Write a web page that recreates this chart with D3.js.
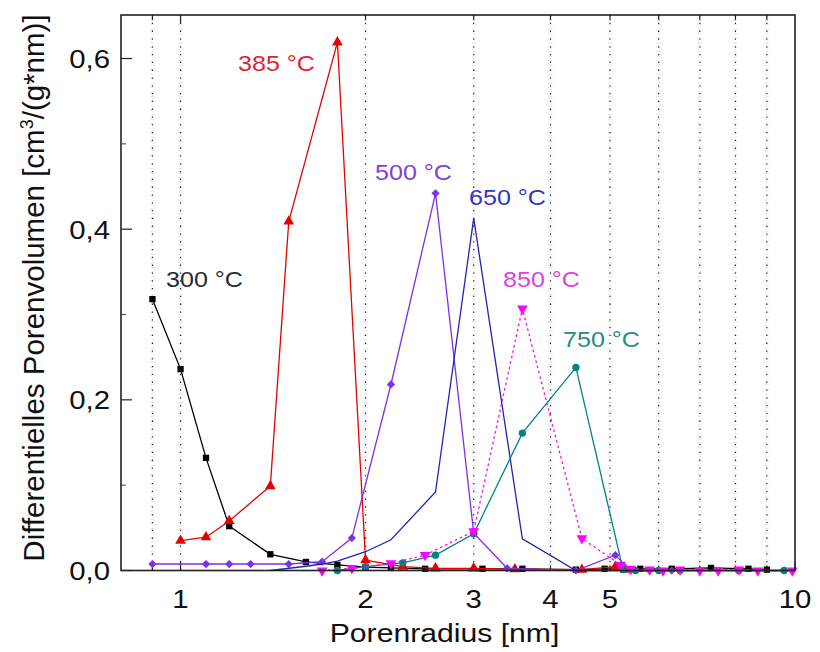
<!DOCTYPE html>
<html>
<head>
<meta charset="utf-8">
<script src="https://cdn.jsdelivr.net/npm/d3@7"></script>
<style>
  html, body { margin: 0; padding: 0; background: #fff; }
  svg { display: block; }
  text { font-family: "Liberation Sans", Arial, sans-serif; }
</style>
</head>
<body>
<svg id="chart" width="820" height="652"></svg>
<script>
// Pore radius (nm) and differential pore volume (cm³/(g·nm)) per calcination temperature
const r300 = [0.9, 1.0, 1.1, 1.2, 1.4, 1.6, 1.8, 2.0, 2.2, 2.5, 3.1, 3.6, 4.4, 4.9, 5.6, 6.3, 7.3, 8.4, 9.0];
const v300 = [0.318, 0.236, 0.132, 0.052, 0.019, 0.010, 0.0065, 0.004, 0.003, 0.002, 0.002, 0.002, 0.001, 0.002, 0.002, 0.002, 0.003, 0.002, 0.001];

const r385 = [1.0, 1.1, 1.2, 1.4, 1.5, 1.8, 2.0, 2.3, 2.6, 3.0, 3.5, 4.5, 5.1, 5.3];
const v385 = [0.035, 0.039, 0.058, 0.099, 0.409, 0.619, 0.012, 0.0045, 0.0026, 0.0026, 0.0015, 0.001, 0.0045, 0.001];

const r500 = [0.9, 1.1, 1.2, 1.3, 1.5, 1.7, 1.9, 2.2, 2.6, 3.0, 3.4, 4.4, 5.1, 5.4, 5.8, 6.3];
const v500 = [0.0076, 0.0076, 0.0076, 0.0076, 0.0076, 0.0103, 0.038, 0.218, 0.442, 0.0436, 0.0026, 0.0, 0.018, 0.0, 0.0, 0.0];

const r650 = [1.4, 1.6, 1.7, 1.8, 2.0, 2.2, 2.6, 3.0, 3.6, 4.4, 5.2, 6.0, 7.0, 8.0, 9.0, 10.0];
const v650 = [0.0, 0.005, 0.0076, 0.011, 0.022, 0.036, 0.092, 0.413, 0.037, 0.0, 0.0, 0.0, 0.0, 0.0, 0.0, 0.0];

const r750 = [1.8, 2.0, 2.3, 2.6, 3.0, 3.6, 4.4, 5.25, 5.5, 6.0, 6.5, 8.1, 9.6];
const v750 = [0.0, 0.0045, 0.009, 0.018, 0.043, 0.161, 0.238, 0.001, 0.0, 0.0, 0.0, 0.0, 0.0];

const r850 = [1.7, 1.9, 2.2, 2.5, 3.0, 3.6, 4.5, 5.2, 5.4, 5.8, 6.1, 6.5, 7.0, 7.5, 8.1, 8.7, 9.9];
const v850 = [0.0, 0.0025, 0.0084, 0.018, 0.046, 0.307, 0.0377, 0.0065, 0.002, 0.001, 0.0, 0.001, 0.0, 0.0, 0.001, 0.0, 0.0];

const seriesNames = ["300 °C", "385 °C", "500 °C", "650 °C", "750 °C", "850 °C"];
const yTickValues = [0, 0.2, 0.4, 0.6];
const yTickLabels = ["0,0", "0,2", "0,4", "0,6"];
const yMinorValues = [0.1, 0.3, 0.5];
const xTickValues = [1, 2, 3, 4, 5, 10];
const xTickLabels = ["1", "2", "3", "4", "5", "10"];
const xGridValues = [0.9, 1, 2, 3, 4, 5, 6, 7, 8, 9];
const xTitle = "Porenradius [nm]";

const svg = d3.select("#chart");
const plot = { left: 121, right: 795, top: 15, bottom: 570.5 };

const x = d3.scaleLog().domain([0.8, 10]).range([plot.left, plot.right]);
const y = d3.scaleLinear().domain([0, 0.651]).range([plot.bottom, plot.top]);

// stretched text helper (wide sans look)
function label(sel, px, py, str, size, anchor, fill, sx) {
  return sel.append("text")
    .attr("transform", `translate(${px},${py}) scale(${sx},1)`)
    .attr("text-anchor", anchor)
    .attr("font-size", size)
    .attr("fill", fill)
    .text(str);
}

// dotted vertical grid at log minor positions
svg.append("g").selectAll("line").data(xGridValues).join("line")
  .attr("x1", d => x(d)).attr("x2", d => x(d))
  .attr("y1", plot.top).attr("y2", plot.bottom)
  .attr("stroke", "#d8d8d8").attr("stroke-width", 4).attr("stroke-dasharray", "1.2,3.3").attr("opacity", 0.5);
svg.append("g").selectAll("line").data(xGridValues).join("line")
  .attr("x1", d => x(d)).attr("x2", d => x(d))
  .attr("y1", plot.top).attr("y2", plot.bottom)
  .attr("stroke", "#222").attr("stroke-width", 1.2).attr("stroke-dasharray", "1.3,6.5");

// y ticks inside the frame
svg.append("g").selectAll("line").data(yTickValues).join("line")
  .attr("x1", plot.left).attr("x2", plot.left + 11)
  .attr("y1", d => y(d)).attr("y2", d => y(d))
  .attr("stroke", "#222").attr("stroke-width", 1.2);
svg.append("g").selectAll("line").data(yMinorValues).join("line")
  .attr("x1", plot.left).attr("x2", plot.left + 5)
  .attr("y1", d => y(d)).attr("y2", d => y(d))
  .attr("stroke", "#444").attr("stroke-width", 1);

// x ticks (bottom & top) at grid positions
svg.append("g").selectAll("line").data(xGridValues.concat([10])).join("line")
  .attr("x1", d => x(d)).attr("x2", d => x(d))
  .attr("y1", plot.bottom).attr("y2", d => plot.bottom - ([1, 10].includes(d) ? 9 : 5))
  .attr("stroke", "#222").attr("stroke-width", 1.2);
svg.append("g").selectAll("line").data(xGridValues).join("line")
  .attr("x1", d => x(d)).attr("x2", d => x(d))
  .attr("y1", plot.top).attr("y2", d => plot.top + ([1, 10].includes(d) ? 9 : 5))
  .attr("stroke", "#222").attr("stroke-width", 1.2);

// tick labels
yTickValues.forEach((v, i) => label(svg, 110, y(v) + 9.5, yTickLabels[i], 26, "end", "#111", 1.13));
xTickValues.forEach((v, i) => label(svg, x(v), 608, xTickLabels[i], 26, "middle", "#111", 1.13));

// axis titles
label(svg, 444.5, 642, xTitle, 26, "middle", "#111", 1.16);
const yt = svg.append("text")
  .attr("transform", "translate(44,288) rotate(-90)")
  .attr("text-anchor", "middle")
  .attr("font-size", 29.5)
  .attr("fill", "#111");
yt.append("tspan").text("Differentielles Porenvolumen [cm");
yt.append("tspan").attr("dy", -11).attr("font-size", 18).text("3");
yt.append("tspan").attr("dy", 11).text("/(g*nm)]");

// series
const line = d3.line().x(d => x(d[0])).y(d => y(d[1]));
const zip = (a, b) => a.map((v, i) => [v, b[i]]);

const series = [
  { name: seriesNames[0], data: zip(r300, v300), color: "#000000", symbol: d3.symbolSquare, size: 40, dash: null },
  { name: seriesNames[1], data: zip(r385, v385), color: "#e60000", symbol: d3.symbolTriangle, size: 50, dash: null },
  { name: seriesNames[2], data: zip(r500, v500), color: "#7f2fe8", symbol: d3.symbolSquare, size: 34, dash: null, rotate: 45 },
  { name: seriesNames[3], data: zip(r650, v650), color: "#2323b8", symbol: null, size: 0, dash: null },
  { name: seriesNames[4], data: zip(r750, v750), color: "#008383", symbol: d3.symbolCircle, size: 42, dash: null },
  { name: seriesNames[5], data: zip(r850, v850), color: "#ff00ff", symbol: d3.symbolTriangle, size: 50, dash: "2.5,3", rotate: 180 }
];

const gSeries = svg.append("g");
series.forEach(s => {
  const g = gSeries.append("g");
  g.append("path").datum(s.data)
    .attr("d", line).attr("fill", "none")
    .attr("stroke", s.color).attr("stroke-width", 1.3)
    .attr("stroke-dasharray", s.dash);
  if (s.symbol) {
    g.selectAll("path.m").data(s.data).join("path").attr("class", "m")
      .attr("d", d3.symbol().type(s.symbol).size(s.size))
      .attr("transform", d => `translate(${x(d[0])},${y(d[1])})` + (s.rotate ? ` rotate(${s.rotate})` : ""))
      .attr("fill", s.color);
  }
});

// frame
svg.append("rect")
  .attr("x", plot.left).attr("y", plot.top)
  .attr("width", plot.right - plot.left).attr("height", plot.bottom - plot.top)
  .attr("fill", "none").attr("stroke", "#222").attr("stroke-width", 1.6);

// temperature labels
const notes = [
  { i: 0, px: 166, py: 287, fill: "#2a2a2a" },
  { i: 1, px: 238, py: 71, fill: "#e0262a" },
  { i: 2, px: 375, py: 180, fill: "#8040e0" },
  { i: 3, px: 469, py: 205, fill: "#3535c4" },
  { i: 5, px: 503, py: 287, fill: "#e040e0" },
  { i: 4, px: 563, py: 347, fill: "#2a8a8a" }
];
notes.forEach(n => label(svg, n.px, n.py, seriesNames[n.i], 22, "start", n.fill, 1.14));
</script>
</body>
</html>
